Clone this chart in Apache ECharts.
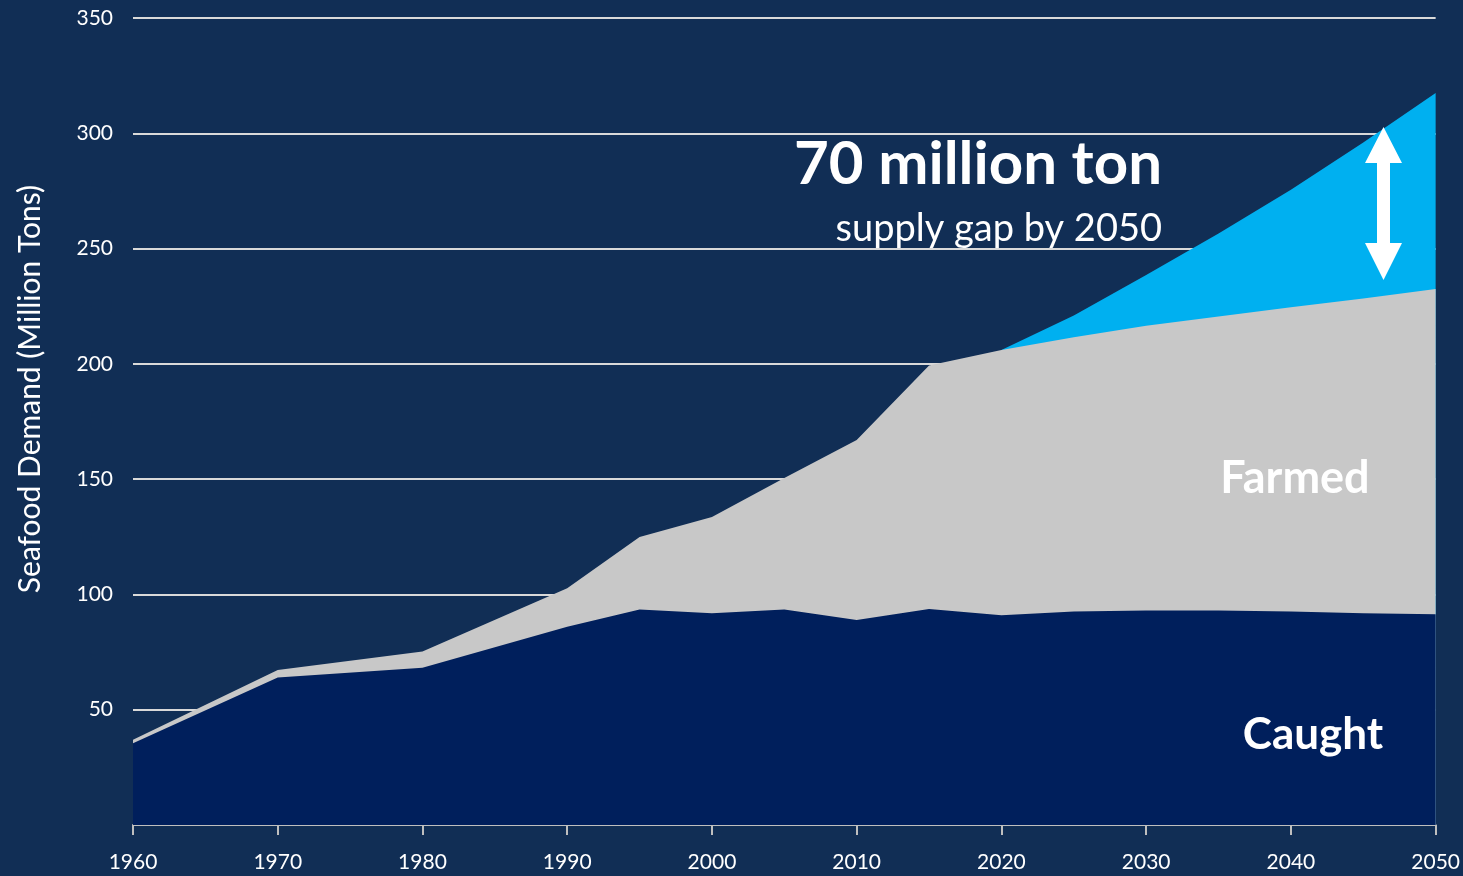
<!DOCTYPE html>
<html>
<head>
<meta charset="utf-8">
<script src="https://cdn.jsdelivr.net/npm/echarts@6/dist/echarts.min.js"></script>
<style>
html,body{margin:0;padding:0;background:#112e55;}
#chart{width:1463px;height:876px;}
</style>
</head>
<body>
<div id="chart"></div>
<script>
// Data (million tons)
var years      = [1960, 1970, 1980, 1990, 1995, 2000, 2005, 2010, 2015, 2020, 2025, 2030, 2035, 2040, 2045, 2050];
var caught     = [35.5, 64, 68.2, 86, 93.5, 91.8, 93.5, 88.9, 93.7, 91, 92.6, 93, 93, 92.6, 91.8, 91.4];
var supplyTotal= [37, 67.2, 75.2, 102.7, 124.9, 133.6, 150.5, 167, 199.3, 206, 211.5, 216.5, 220.5, 224.5, 228.3, 232.5];
var demandYears= [2020, 2025, 2030, 2035, 2040, 2045, 2050];
var demand     = [206, 221, 238.5, 256.5, 275.5, 296, 317.5];
var yTicks     = [0, 50, 100, 150, 200, 250, 300, 350];

function pairs(xs, ys){ return xs.map(function(x,i){ return [x, ys[i]]; }); }

var chart = echarts.init(document.getElementById('chart'), null, {renderer:'canvas'});
var FONT = 'Lato, "Open Sans", sans-serif';

chart.setOption({
  backgroundColor: '#112e55',
  animation: false,
  grid: {left:133, right:25, top:18, bottom:51, containLabel:false},
  xAxis: {
    type: 'value', min: 1960, max: 2050, interval: 10,
    axisLine: {show:true, lineStyle:{color:'#bfbfbf', width:2}},
    axisTick: {show:true, length:10, lineStyle:{color:'#bfbfbf', width:2}},
    axisLabel: {color:'#ffffff', fontSize:21, fontFamily:FONT, margin:27, formatter: function(v){return String(v);}},
    splitLine: {show:false}
  },
  yAxis: {
    type: 'value', min: yTicks[0], max: yTicks[yTicks.length-1], interval: 50,
    axisLine: {show:false}, axisTick: {show:false},
    axisLabel: {color:'#ffffff', fontSize:21, fontFamily:FONT, margin:20,
      formatter: function(v){ return v === 0 ? '' : String(v); }},
    splitLine: {show:true, lineStyle:{color:'#d9d9d9', width:2}}
  },
  series: [
    {name:'Demand', type:'line', data: pairs(demandYears, demand), symbol:'none',
     lineStyle:{width:0}, areaStyle:{color:'#00b0f0', opacity:1}, z:2},
    {name:'Farmed', type:'line', data: pairs(years, supplyTotal), symbol:'none',
     lineStyle:{width:0}, areaStyle:{color:'#c8c8c8', opacity:1}, z:3},
    {name:'Caught', type:'line', data: pairs(years, caught), symbol:'none',
     lineStyle:{width:0}, areaStyle:{color:'#001f5c', opacity:1}, z:4}
  ],
  graphic: [
    {type:'text', x:30, y:389, rotation:Math.PI/2, z:10,
     style:{text:'Seafood Demand (Million Tons)', fill:'#ffffff', font:'30px '+FONT, textAlign:'center', textVerticalAlign:'middle'}},
    {type:'text', x:1162, y:165, z:10,
     style:{text:'70 million ton', fill:'#ffffff', font:'bold 60px '+FONT, textAlign:'right', textVerticalAlign:'middle'}},
    {type:'text', x:1162, y:229, z:10,
     style:{text:'supply gap by 2050', fill:'#ffffff', font:'38px '+FONT, textAlign:'right', textVerticalAlign:'middle'}},
    {type:'text', x:1295, y:478, z:10,
     style:{text:'Farmed', fill:'#ffffff', font:'bold 45px '+FONT, textAlign:'center', textVerticalAlign:'middle'}},
    {type:'text', x:1313, y:735, z:10,
     style:{text:'Caught', fill:'#ffffff', font:'bold 44px '+FONT, textAlign:'center', textVerticalAlign:'middle'}},
    {type:'polygon', z:10,
     shape:{points:[[1383.5,127],[1402,163],[1390,163],[1390,243],[1402,243],[1383.5,280],[1365,243],[1377,243],[1377,163],[1365,163]]},
     style:{fill:'#ffffff'}}
  ]
});
</script>
</body>
</html>
